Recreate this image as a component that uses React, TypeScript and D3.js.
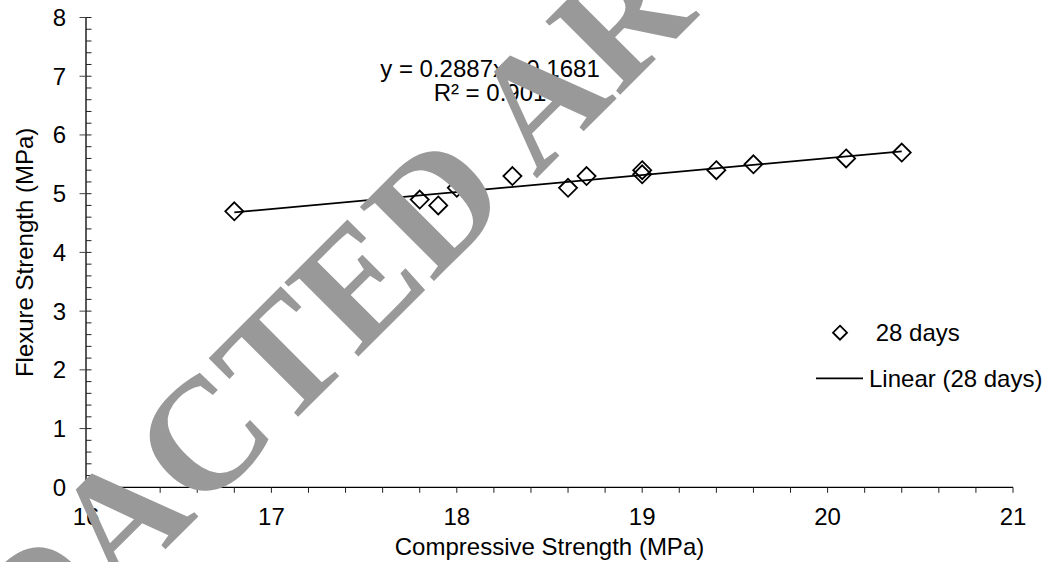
import React from "react";
import * as d3 from "d3";

// Compressive vs flexure strength at 28 days
const compressive = [16.8, 17.8, 17.9, 18.0, 18.3, 18.6, 18.7, 19.0, 19.0, 19.4, 19.6, 20.1, 20.4];
const flexure = [4.7, 4.9, 4.8, 5.1, 5.3, 5.1, 5.3, 5.4, 5.33, 5.4, 5.5, 5.6, 5.7];

// Linear trendline coefficients
const slope = 0.2887;
const intercept = -0.1681;
const rSquared = 0.901;

const xTickValues = [16, 17, 18, 19, 20, 21];
const yTickValues = [0, 1, 2, 3, 4, 5, 6, 7, 8];

const seriesName = "28 days";
const xTitle = "Compressive Strength (MPa)";
const yTitle = "Flexure Strength (MPa)";
const watermark = "REDACTED ARCHIVE";

const W = 1056;
const H = 562;
const FONT = "'Liberation Sans', Arial, sans-serif";
const SERIF = "'Liberation Serif', 'Times New Roman', serif";

// point from along-baseline (p) and across-baseline (q) coords of a -45deg frame
const fromDiag = (p: number, q: number) => [(p + q) / Math.SQRT2, (q - p) / Math.SQRT2];

export default function App() {
  const x = d3.scaleLinear().domain([16, 21]).range([86, 1013]);
  const y = d3.scaleLinear().domain([0, 8]).range([487.3, 17.5]);

  const xMinor = d3.range(16, 21.0001, 0.2);
  const yMinor = d3.range(0, 8.0001, 0.2);

  const diamond = (r: number) => `M0,${-r}L${r},0L0,${r}L${-r},0Z`;

  const xLo = d3.min(compressive)!;
  const xHi = d3.max(compressive)!;
  const trend = d3
    .line<number>()
    .x((v) => x(v))
    .y((v) => y(slope * v + intercept));

  const sign = intercept < 0 ? "-" : "+";
  const eqText = `y = ${slope.toFixed(4)}x ${sign} ${Math.abs(intercept).toFixed(4)}`;
  const r2Text = `R² = ${rSquared}`;

  const [wx, wy] = fromDiag(-677, 505.5);

  return (
    <svg
      width={W}
      height={H}
      style={{ position: "fixed", left: 0, top: 0, background: "#fff" }}
      fontFamily={FONT}
    >
      <rect width={W} height={H} fill="#fff" />

      {/* axes */}
      <line x1={x(16)} x2={x(16)} y1={y(0)} y2={y(8)} stroke="#000" strokeWidth={1.3} />
      <line x1={x(16)} x2={x(21)} y1={y(0)} y2={y(0)} stroke="#000" strokeWidth={1.3} />

      {/* y ticks: minor inside, major crossing */}
      {yMinor.map((v, i) => (
        <line key={"ym" + i} x1={x(16)} x2={x(16) + 5.5} y1={y(v)} y2={y(v)} stroke="#222" strokeWidth={1} />
      ))}
      {yTickValues.map((v) => (
        <line key={"yM" + v} x1={x(16) - 6.5} x2={x(16)} y1={y(v)} y2={y(v)} stroke="#444" strokeWidth={1} />
      ))}
      {yTickValues.map((v) => (
        <text key={"yl" + v} x={66} y={y(v) + 8.5} textAnchor="end" fontSize={24} fill="#000">
          {v}
        </text>
      ))}

      {/* x ticks */}
      {xMinor.map((v, i) => (
        <line key={"xm" + i} x1={x(v)} x2={x(v)} y1={y(0)} y2={y(0) + 5.5} stroke="#222" strokeWidth={1} />
      ))}
      {xTickValues.map((v) => (
        <text key={"xl" + v} x={x(v)} y={525} textAnchor="middle" fontSize={24} fill="#000">
          {v}
        </text>
      ))}

      {/* axis titles */}
      <text x={(x(16) + x(21)) / 2} y={555} textAnchor="middle" fontSize={24} fill="#000">
        {xTitle}
      </text>
      <text
        transform={`translate(33,${(y(0) + y(8)) / 2}) rotate(-90)`}
        textAnchor="middle"
        fontSize={24}
        fill="#000"
      >
        {yTitle}
      </text>

      {/* trendline */}
      <path d={trend([xLo, xHi]) || ""} fill="none" stroke="#000" strokeWidth={1.8} />

      {/* points */}
      {compressive.map((cv, i) => (
        <path
          key={"p" + i}
          d={diamond(9)}
          transform={`translate(${x(cv)},${y(flexure[i])})`}
          fill="none"
          stroke="#000"
          strokeWidth={1.8}
        />
      ))}

      {/* equation */}
      <text x={490} y={77} textAnchor="middle" fontSize={24} fill="#000">
        {eqText}
      </text>
      <text x={490} y={101} textAnchor="middle" fontSize={24} fill="#000">
        {r2Text}
      </text>

      {/* legend */}
      <path d={diamond(7)} transform="translate(840,332.7)" fill="none" stroke="#000" strokeWidth={1.8} />
      <text x={875.7} y={341} fontSize={24} fill="#000">
        {seriesName}
      </text>
      <line x1={816} x2={863} y1={378.3} y2={378.3} stroke="#000" strokeWidth={1.8} />
      <text x={869} y={386.7} fontSize={24} fill="#000">
        {`Linear (${seriesName})`}
      </text>

      {/* watermark overlay */}
      <text
        transform={`translate(${wx},${wy}) rotate(-45)`}
        fontFamily={SERIF}
        fontWeight="bold"
        fontSize={160}
        fill="#999"
      >
        {watermark}
      </text>
    </svg>
  );
}
